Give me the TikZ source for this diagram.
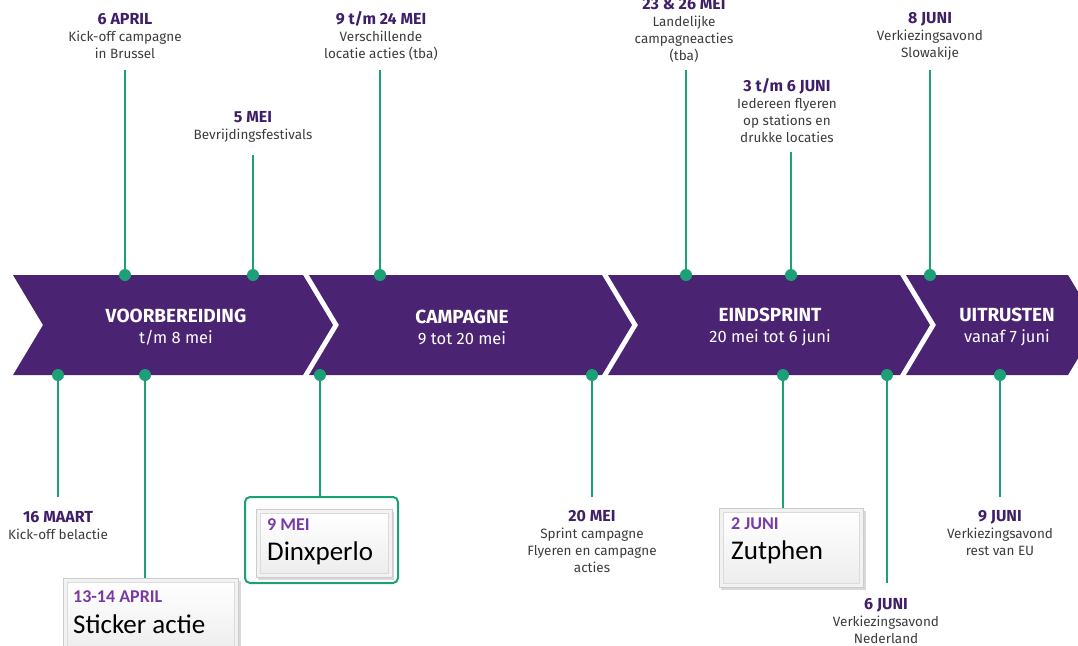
\documentclass[tikz,border=0pt]{standalone}
\usepackage{fontspec}
\setmainfont{Fira Sans}
\newfontfamily\boxfont{Carlito}
\definecolor{bandpurple}{HTML}{4B2373}
\definecolor{tgreen}{HTML}{1BA078}
\definecolor{titlepurple}{HTML}{3E1F68}
\definecolor{labgray}{HTML}{3C3C3C}
\definecolor{boxpurple}{HTML}{7A3AA6}
\newcommand\ttl[1]{{\fontsize{16}{17}\selectfont\bfseries\color{titlepurple}#1}}
\newcommand\phs[1]{{\fontsize{19}{21}\selectfont\bfseries #1}}
\tikzset{
  band/.style={fill=bandpurple},
  stem/.style={draw=tgreen, line width=2.4pt},
  dot/.style={circle, fill=tgreen, inner sep=0pt, minimum size=12pt},
  lbl/.style={align=center, inner sep=0pt, text=labgray, font=\fontsize{13.5}{17}\selectfont},
  phase/.style={align=center, inner sep=0pt, text=white, font=\fontsize{16.5}{21}\selectfont},
  btnshadow/.style={fill=black!15},
  btnouter/.style={fill=gray!10, draw=gray!40, line width=0.8pt},
  btninner/.style={top color=white, bottom color=gray!14, draw=gray!28, line width=0.6pt},
  boxdate/.style={anchor=west, inner sep=0pt, text=boxpurple, font=\boxfont\bfseries\fontsize{18}{20}\selectfont},
  boxname/.style={anchor=west, inner sep=0pt, text=black, font=\boxfont\fontsize{27}{30}\selectfont},
  greenframe/.style={draw=tgreen, line width=2pt, rounded corners=5pt}
}
\begin{document}
\begin{tikzpicture}[x=1pt,y=-1pt]
\useasboundingbox (0,0) rectangle (1078,645);
\clip (0,0) rectangle (1078,645);
% band
\fill[band] (13,275) -- (303,275) -- (333,325) -- (303,375) -- (13,375) -- (43,325) -- cycle;
\fill[band] (309,275) -- (602,275) -- (632,325) -- (602,375) -- (309,375) -- (339,325) -- cycle;
\fill[band] (608,275) -- (900,275) -- (930,325) -- (900,375) -- (608,375) -- (638,325) -- cycle;
\fill[band] (906,275) -- (1068,275) -- (1098,325) -- (1068,375) -- (906,375) -- (936,325) -- cycle;
% phase texts
\node[phase] (p1) at (176,327) {\phs{VOORBEREIDING}\\t/m 8 mei};
\node[phase] (p2) at (462,327) {\phs{CAMPAGNE}\\9 tot 20 mei};
\node[phase] (p3) at (770,327) {\phs{EINDSPRINT}\\20 mei tot 6 juni};
\node[phase] (p4) at (1007,327) {\phs{UITRUSTEN}\\vanaf 7 juni};
% dots
\node[dot] (t1) at (125,275) {};
\node[dot] (t2) at (253,275) {};
\node[dot] (t3) at (380,275) {};
\node[dot] (t4) at (686,275) {};
\node[dot] (t5) at (791,275) {};
\node[dot] (t6) at (930,275) {};
\node[dot] (b1) at (58,375) {};
\node[dot] (b2) at (145,375) {};
\node[dot] (b3) at (320,375) {};
\node[dot] (b4) at (592,375) {};
\node[dot] (b5) at (783,375) {};
\node[dot] (b6) at (887,375) {};
\node[dot] (b7) at (1000,375) {};
% stem ends
\coordinate (e1) at (125,70);
\coordinate (e2) at (253,155);
\coordinate (e3) at (380,70);
\coordinate (e4) at (686,70);
\coordinate (e5) at (791,152);
\coordinate (e6) at (930,70);
\coordinate (f1) at (58,497);
\coordinate (f2) at (145,578);
\coordinate (f3) at (320,497);
\coordinate (f4) at (592,497);
\coordinate (f5) at (783,508);
\coordinate (f6) at (887,583);
\coordinate (f7) at (1000,497);
\foreach \a/\b in {e1/t1,e2/t2,e3/t3,e4/t4,e5/t5,e6/t6,b1/f1,b2/f2,b3/f3,b4/f4,b5/f5,b6/f6,b7/f7}
  \draw[stem] (\a) -- (\b.center);
% top labels
\node[lbl] (l1) at (125,36) {\ttl{6 APRIL}\\Kick-off campagne\\in Brussel};
\node[lbl] (l2) at (253,126.5) {\ttl{5 MEI}\\Bevrijdingsfestivals};
\node[lbl] (l3) at (381,36) {\ttl{9 t/m 24 MEI}\\Verschillende\\locatie acties (tba)};
\node[lbl] (l4) at (684,30) {\ttl{23 \& 26 MEI}\\Landelijke\\campagneacties\\(tba)};
\node[lbl] (l5) at (787,111) {\ttl{3 t/m 6 JUNI}\\Iedereen flyeren\\op stations en\\drukke locaties};
\node[lbl] (l6) at (930,36) {\ttl{8 JUNI}\\Verkiezingsavond\\Slowakije};
% bottom labels
\node[lbl] (m1) at (58,525.5) {\ttl{16 MAART}\\Kick-off belactie};
\node[lbl] (m4) at (592,541.5) {\ttl{20 MEI}\\Sprint campagne\\Flyeren en campagne\\acties};
\node[lbl] (m6) at (886,621) {\ttl{6 JUNI}\\Verkiezingsavond\\Nederland};
\node[lbl] (m7) at (1000,533) {\ttl{9 JUNI}\\Verkiezingsavond\\rest van EU};
% Sticker box
\fill[btnshadow] (65,581) rectangle (241,660);
\draw[btnouter] (63,578) rectangle (238,656);
\draw[btninner] (67,582) rectangle (234,652);
\node[boxdate] (s1) at (73,597) {13-14 APRIL};
\node[boxname] (s2) at (73,624) {Sticker actie};
% Dinxperlo box
\draw[greenframe] (245,497) rectangle (398,583);
\fill[btnshadow] (258,512) rectangle (394,580);
\draw[btnouter] (256,509) rectangle (392,577);
\draw[btninner] (260,513) rectangle (388,573);
\node[boxdate] (d1) at (267,525) {9 MEI};
\node[boxname] (d2) at (267,553) {Dinxperlo};
% Zutphen box
\fill[btnshadow] (721,511) rectangle (866,590);
\draw[btnouter] (719,508) rectangle (863,587);
\draw[btninner] (723,512) rectangle (859,583);
\node[boxdate] (z1) at (731,524) {2 JUNI};
\node[boxname] (z2) at (731,552) {Zutphen};
\end{tikzpicture}
\end{document}
